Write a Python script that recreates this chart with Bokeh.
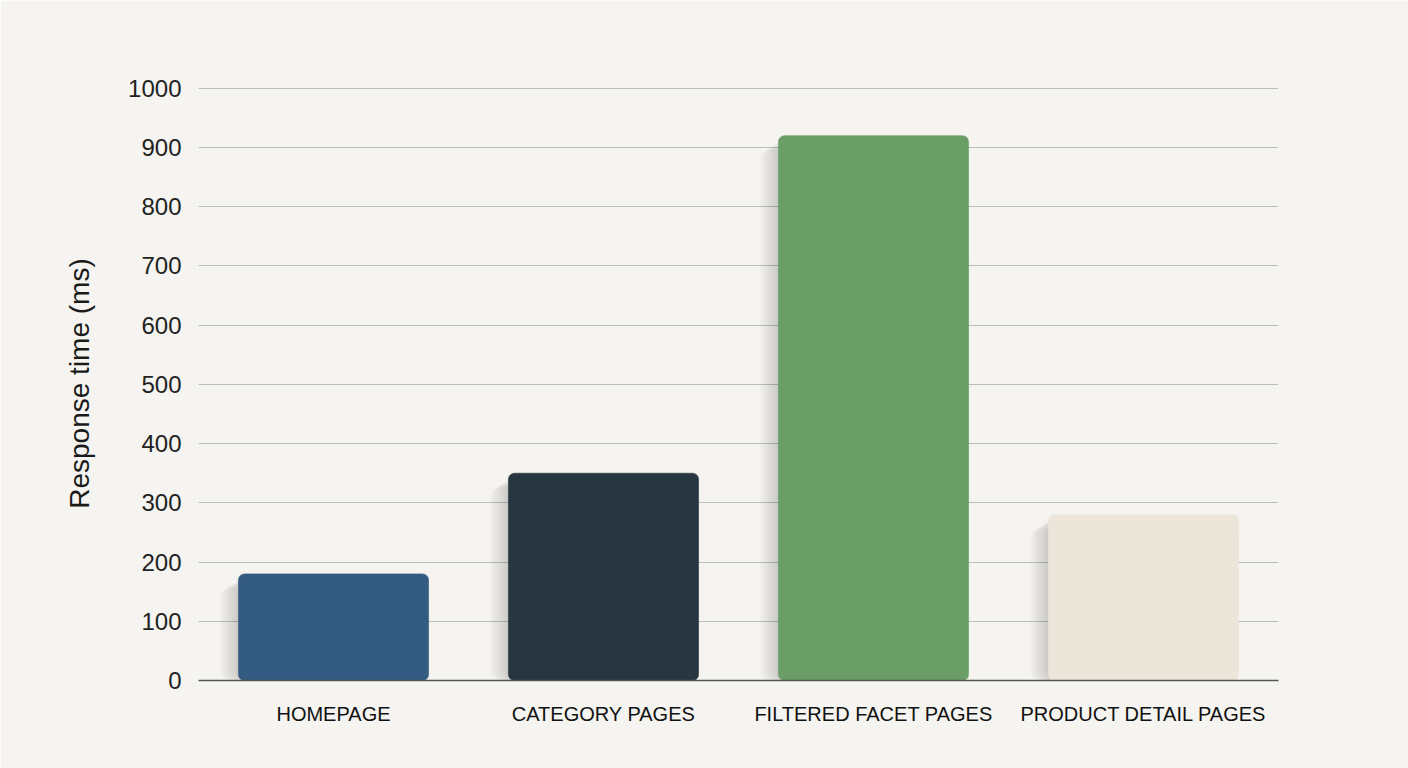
from bokeh.plotting import figure
from bokeh.models import ColumnDataSource, FactorRange, Range1d, FixedTicker
from bokeh.transform import dodge
from bokeh.embed import file_html
from bokeh.resources import INLINE

categories = ["HOMEPAGE", "CATEGORY PAGES", "FILTERED FACET PAGES", "PRODUCT DETAIL PAGES"]
response_ms = [180, 350, 920, 280]
bar_colors = ["#335a81", "#283641", "#6b9e66", "#ece5da"]
y_ticks = [0, 100, 200, 300, 400, 500, 600, 700, 800, 900, 1000]

BG = "#f5f4f0"

src = ColumnDataSource(dict(cat=categories, val=response_ms, color=bar_colors))

p = figure(
    x_range=FactorRange(*categories, range_padding=0),
    y_range=Range1d(0, 1003),
    width=1408, height=768,
    output_backend="svg", toolbar_location=None,
    background_fill_color=BG, border_fill_color=BG,
    min_border_left=198, min_border_right=130,
    min_border_top=86, min_border_bottom=88,
)
p.outline_line_color = None

# soft shadows (layered, translucent)
for i in range(10):
    shadow_top = [v - 6 - 2 * i for v in response_ms]
    ssrc = ColumnDataSource(dict(cat=categories, top=shadow_top))
    p.vbar(x=dodge("cat", -0.008 - 0.003 * i, range=p.x_range), top="top", bottom=0,
           width=0.704 + 0.008 * i, source=ssrc, fill_color="#000000", fill_alpha=0.014,
           line_color=None, border_radius=10)

p.vbar(x="cat", top="val", bottom=0, width=0.704, source=src,
       fill_color="color", line_color="color", line_alpha=0.6, border_radius=6)

# axes
p.yaxis.ticker = FixedTicker(ticks=y_ticks)
p.yaxis.axis_line_color = None
p.yaxis.major_tick_line_color = None
p.yaxis.major_tick_out = 0
p.yaxis.major_tick_in = 0
p.yaxis.minor_tick_line_color = None
p.yaxis.major_label_standoff = 17
p.yaxis.major_label_text_font = "Liberation Sans"
p.yaxis.major_label_text_font_size = "24px"
p.yaxis.major_label_text_color = "#222222"
p.yaxis.axis_label = "Response time (ms)"
p.yaxis.axis_label_text_font = "Liberation Sans"
p.yaxis.axis_label_text_font_size = "28px"
p.yaxis.axis_label_text_font_style = "normal"
p.yaxis.axis_label_text_color = "#1a1a1a"
p.yaxis.axis_label_standoff = 30

p.xaxis.axis_line_color = "#555555"
p.xaxis.axis_line_width = 1.5
p.xaxis.major_tick_line_color = None
p.xaxis.major_tick_out = 0
p.xaxis.major_tick_in = 0
p.xaxis.minor_tick_line_color = None
p.xaxis.major_label_standoff = 22
p.xaxis.major_label_text_font = "Liberation Sans"
p.xaxis.major_label_text_font_size = "20px"
p.xaxis.major_label_text_color = "#111111"

p.xgrid.grid_line_color = None
p.ygrid.grid_line_color = "#bdbdbd"
p.ygrid.grid_line_width = 1
p.ygrid.ticker = FixedTicker(ticks=y_ticks)

open("out.html", "w").write(file_html(p, INLINE))
